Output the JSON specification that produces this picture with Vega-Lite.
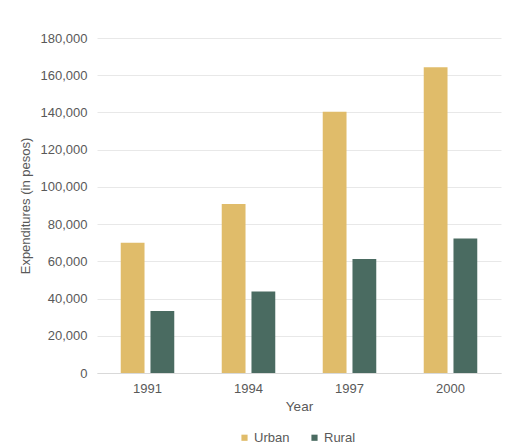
{
  "$schema": "https://vega.github.io/schema/vega-lite/v6.json",
  "autosize": "none",
  "width": 404,
  "height": 335,
  "padding": {"left": 97, "top": 38, "right": 30, "bottom": 74},
  "background": "white",
  "data": {
    "values": [
      {"Year": "1991", "Area": "Urban", "Value": 70000},
      {"Year": "1991", "Area": "Rural", "Value": 33300},
      {"Year": "1994", "Area": "Urban", "Value": 90800},
      {"Year": "1994", "Area": "Rural", "Value": 43800},
      {"Year": "1997", "Area": "Urban", "Value": 140400},
      {"Year": "1997", "Area": "Rural", "Value": 61300},
      {"Year": "2000", "Area": "Urban", "Value": 164300},
      {"Year": "2000", "Area": "Rural", "Value": 72300}
    ]
  },
  "mark": {"type": "bar"},
  "encoding": {
    "x": {
      "field": "Year", "type": "nominal",
      "scale": {"paddingInner": 0.47, "paddingOuter": 0.235},
      "axis": {"title": "Year", "labelAngle": 0, "ticks": false, "domainColor": "#D9D9D9", "labelPadding": 9, "titlePadding": 4, "grid": false, "titleFontSize": 13.5}
    },
    "xOffset": {"field": "Area", "type": "nominal", "sort": ["Urban", "Rural"], "scale": {"paddingInner": 0.2}},
    "y": {
      "field": "Value", "type": "quantitative",
      "scale": {"domain": [0, 180000], "nice": false},
      "axis": {"title": "Expenditures (in pesos)", "values": [0,20000,40000,60000,80000,100000,120000,140000,160000,180000], "format": ",.0f", "labelOverlap": false, "domain": false, "ticks": false, "labelPadding": 10, "gridColor": "#E8E8E8", "titlePadding": 8}
    },
    "color": {
      "field": "Area", "type": "nominal",
      "scale": {"domain": ["Urban", "Rural"], "range": ["#E0BC6A", "#4A6B61"]},
      "legend": {"title": null, "orient": "none", "direction": "horizontal", "legendX": 141, "legendY": 393, "symbolType": "square", "symbolSize": 38, "symbolStrokeWidth": 0, "labelOffset": 3, "columnPadding": 18}
    }
  },
  "config": {
    "font": "Liberation Sans",
    "view": {"stroke": null},
    "axis": {"labelFont": "Liberation Sans", "titleFont": "Liberation Sans", "labelColor": "#595959", "titleColor": "#595959", "labelFontSize": 13, "titleFontSize": 13, "titleFontWeight": "normal"},
    "legend": {"labelFont": "Liberation Sans", "labelColor": "#595959", "labelFontSize": 13}
  }
}
